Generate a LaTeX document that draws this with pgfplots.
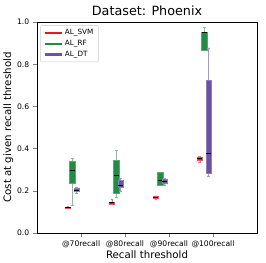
\documentclass[border=0pt]{standalone}
\usepackage{fontspec}
\setmainfont{DejaVu Sans}
\usepackage{pgfplots}
\pgfplotsset{compat=1.18}
\usepgfplotslibrary{statistics}
\definecolor{cR}{HTML}{E41A1C}
\definecolor{cG}{HTML}{238B45}
\definecolor{cP}{HTML}{6A51A3}
\pgfplotsset{
  bR/.style={draw=cR!75, fill=cR, boxplot/every whisker/.style={draw=cR!60}, boxplot/every median/.style={draw=black, thick}},
  bG/.style={draw=cG!75, fill=cG, boxplot/every whisker/.style={draw=cG!55}, boxplot/every median/.style={draw=black, thick}},
  bP/.style={draw=cP!75, fill=cP, boxplot/every whisker/.style={draw=cP!60}, boxplot/every median/.style={draw=black, thick}},
}
\begin{document}
\begin{tikzpicture}
\begin{axis}[
  scale only axis, width=219pt, height=210pt,
  xmin=0, xmax=5, ymin=0, ymax=1,
  xtick={1,2,3,4}, xticklabels={@70recall,@80recall,@90recall,@100recall},
  ytick={0,0.2,0.4,0.6,0.8,1.0},
  yticklabel style={/pgf/number format/.cd, fixed, fixed zerofill, precision=1},
  /pgf/number format/assume math mode=true,
  tick label style={font=\fontsize{7.6}{8}\selectfont},
  title={Dataset: Phoenix}, title style={font=\fontsize{12.7}{14}\selectfont, yshift=-3pt},
  xlabel={Recall threshold}, ylabel={Cost at given recall threshold},
  label style={font=\fontsize{10.2}{12}\selectfont},
  xlabel style={yshift=4pt}, ylabel style={yshift=-3pt},
  tick align=outside, tick pos=left,
  axis line style={thick},
  legend style={at={(0.015,0.985)}, anchor=north west, font=\fontsize{7.2}{8.5}\selectfont, draw=black!20, rounded corners=1pt, row sep=0pt},
  legend cell align=left,
  boxplot/draw direction=y,
  boxplot/box extend=0.12,
  boxplot/whisker extend=0.06,
]
\addlegendimage{cR, line width=2.2pt}\addlegendentry{AL\_SVM}
\addlegendimage{cG, line width=2.2pt}\addlegendentry{AL\_RF}
\addlegendimage{cP, line width=2.2pt}\addlegendentry{AL\_DT}

% @70
\addplot[bR, boxplot prepared={draw position=0.7, lower whisker=0.115, lower quartile=0.117, median=0.120, upper quartile=0.124, upper whisker=0.126}] coordinates {};
\addplot[bG, boxplot prepared={draw position=0.8, lower whisker=0.132, lower quartile=0.238, median=0.296, upper quartile=0.339, upper whisker=0.353}] coordinates {};
\addplot[bP, boxplot prepared={draw position=0.9, lower whisker=0.190, lower quartile=0.196, median=0.203, upper quartile=0.210, upper whisker=0.215}] coordinates {};
% @80
\addplot[bR, boxplot prepared={draw position=1.7, lower whisker=0.136, lower quartile=0.138, median=0.143, upper quartile=0.147, upper whisker=0.160}] coordinates {};
\addplot[bG, boxplot prepared={draw position=1.8, lower whisker=0.170, lower quartile=0.189, median=0.273, upper quartile=0.345, upper whisker=0.391}] coordinates {};
\addplot[bP, boxplot prepared={draw position=1.9, lower whisker=0.200, lower quartile=0.215, median=0.226, upper quartile=0.250, upper whisker=0.258}] coordinates {};
% @90
\addplot[bR, boxplot prepared={draw position=2.7, lower whisker=0.162, lower quartile=0.163, median=0.168, upper quartile=0.175, upper whisker=0.176}] coordinates {};
\addplot[bG, boxplot prepared={draw position=2.8, lower whisker=0.225, lower quartile=0.228, median=0.248, upper quartile=0.286, upper whisker=0.287}] coordinates {};
\addplot[bP, boxplot prepared={draw position=2.9, lower whisker=0.228, lower quartile=0.236, median=0.245, upper quartile=0.253, upper whisker=0.258}] coordinates {};
% @100
\addplot[bR, boxplot prepared={draw position=3.7, lower whisker=0.334, lower quartile=0.345, median=0.354, upper quartile=0.360, upper whisker=0.362}] coordinates {};
\addplot[bG, boxplot prepared={draw position=3.8, lower whisker=0.865, lower quartile=0.865, median=0.950, upper quartile=0.954, upper whisker=0.976}] coordinates {};
\addplot[bP, boxplot prepared={draw position=3.9, lower whisker=0.270, lower quartile=0.283, median=0.378, upper quartile=0.723, upper whisker=0.878}] coordinates {};
\end{axis}
\path ([xshift=9pt,yshift=22pt]current axis.north east);
\end{tikzpicture}
\end{document}
